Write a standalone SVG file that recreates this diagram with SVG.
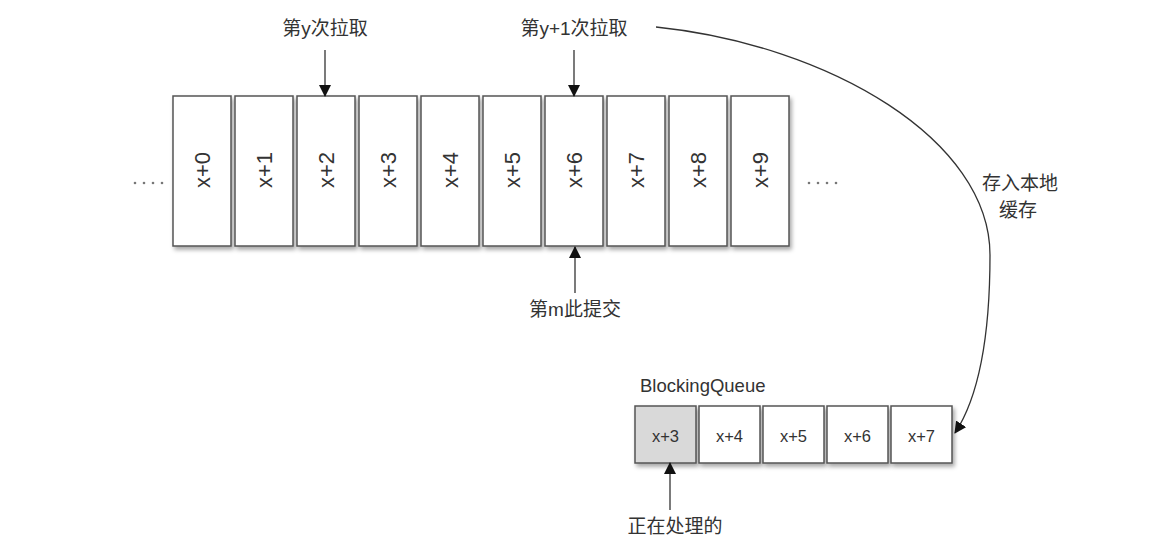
<svg xmlns="http://www.w3.org/2000/svg" width="1150" height="539" viewBox="0 0 1150 539">
<defs>
<filter id="sh" x="-20%" y="-20%" width="150%" height="150%">
<feDropShadow dx="2" dy="3" stdDeviation="2" flood-color="#000" flood-opacity="0.35"/>
</filter>
<marker id="ah" viewBox="0 0 12 12" refX="11" refY="6" markerWidth="12" markerHeight="12" markerUnits="userSpaceOnUse" orient="auto">
<path d="M0,0 L12,6 L0,12 Z" fill="#111"/>
</marker>
</defs>
<style>
.box{fill:#fff;stroke:#555;stroke-width:1.5;filter:url(#sh)}
.cur{fill:#d9d9d9}
.bt{font-family:"Liberation Sans",Arial,sans-serif;font-size:22px;fill:#333;text-anchor:middle}
.qt{font-family:"Liberation Sans",Arial,sans-serif;font-size:16.5px;fill:#333;text-anchor:middle}
.lbl{font-family:"Liberation Sans","Noto Sans CJK SC",sans-serif;font-size:19px;fill:#333;text-anchor:middle}
.ln{fill:none;stroke:#333;stroke-width:1.3;marker-end:url(#ah)}
.dot{fill:#777}
</style>
<rect width="1150" height="539" fill="#fff"/>

<g id="dots-left"><circle class="dot" cx="135" cy="183" r="1.3"/><circle class="dot" cx="144" cy="183" r="1.3"/><circle class="dot" cx="153" cy="183" r="1.3"/><circle class="dot" cx="162" cy="183" r="1.3"/></g>
<g id="dots-right"><circle class="dot" cx="809" cy="183" r="1.3"/><circle class="dot" cx="818" cy="183" r="1.3"/><circle class="dot" cx="827" cy="183" r="1.3"/><circle class="dot" cx="836" cy="183" r="1.3"/></g>

<g id="p0"><rect class="box" x="173" y="96" width="58" height="150"/><text class="bt" transform="translate(202,170) rotate(-90)" dy="0.36em">x+0</text></g>
<g id="p1"><rect class="box" x="235" y="96" width="58" height="150"/><text class="bt" transform="translate(264,170) rotate(-90)" dy="0.36em">x+1</text></g>
<g id="p2"><rect class="box" x="297" y="96" width="58" height="150"/><text class="bt" transform="translate(326,170) rotate(-90)" dy="0.36em">x+2</text></g>
<g id="p3"><rect class="box" x="359" y="96" width="58" height="150"/><text class="bt" transform="translate(388,170) rotate(-90)" dy="0.36em">x+3</text></g>
<g id="p4"><rect class="box" x="421" y="96" width="58" height="150"/><text class="bt" transform="translate(450,170) rotate(-90)" dy="0.36em">x+4</text></g>
<g id="p5"><rect class="box" x="483" y="96" width="58" height="150"/><text class="bt" transform="translate(512,170) rotate(-90)" dy="0.36em">x+5</text></g>
<g id="p6"><rect class="box" x="545" y="96" width="58" height="150"/><text class="bt" transform="translate(574,170) rotate(-90)" dy="0.36em">x+6</text></g>
<g id="p7"><rect class="box" x="607" y="96" width="58" height="150"/><text class="bt" transform="translate(636,170) rotate(-90)" dy="0.36em">x+7</text></g>
<g id="p8"><rect class="box" x="669" y="96" width="58" height="150"/><text class="bt" transform="translate(698,170) rotate(-90)" dy="0.36em">x+8</text></g>
<g id="p9"><rect class="box" x="731" y="96" width="58" height="150"/><text class="bt" transform="translate(760,170) rotate(-90)" dy="0.36em">x+9</text></g>

<g id="label-pull-y"><text class="lbl" x="325" y="35">第y次拉取</text></g>
<g id="label-pull-y1"><text class="lbl" x="574" y="35">第y+1次拉取</text></g>
<g id="label-commit"><text class="lbl" x="575" y="316">第m此提交</text></g>
<g id="label-cache"><text class="lbl" x="1020" y="190">存入本地</text><text class="lbl" x="1018" y="217">缓存</text></g>

<g id="queue">
<text x="640" y="392" font-family="'Liberation Sans',Arial,sans-serif" font-size="18.5" fill="#333">BlockingQueue</text>
<g id="q3"><rect class="box cur" x="635" y="406" width="61" height="57"/><text class="qt" x="665.5" y="442">x+3</text></g>
<g id="q4"><rect class="box" x="699" y="406" width="61" height="57"/><text class="qt" x="729.5" y="442">x+4</text></g>
<g id="q5"><rect class="box" x="763" y="406" width="61" height="57"/><text class="qt" x="793.5" y="442">x+5</text></g>
<g id="q6"><rect class="box" x="827" y="406" width="61" height="57"/><text class="qt" x="857.5" y="442">x+6</text></g>
<g id="q7"><rect class="box" x="891" y="406" width="61" height="57"/><text class="qt" x="921.5" y="442">x+7</text></g>
</g>
<g id="label-processing"><text class="lbl" x="675" y="533">正在处理的</text></g>

<g id="connectors">
<path class="ln" d="M325,50 L325,96"/>
<path class="ln" d="M574,50 L574,96"/>
<path class="ln" d="M575,293 L575,247"/>
<path class="ln" d="M670,510 L670,463"/>
<path class="ln" d="M656,27 C830,45 990,140 990,255 C990,330 980,395 955,433"/>
</g>
</svg>
